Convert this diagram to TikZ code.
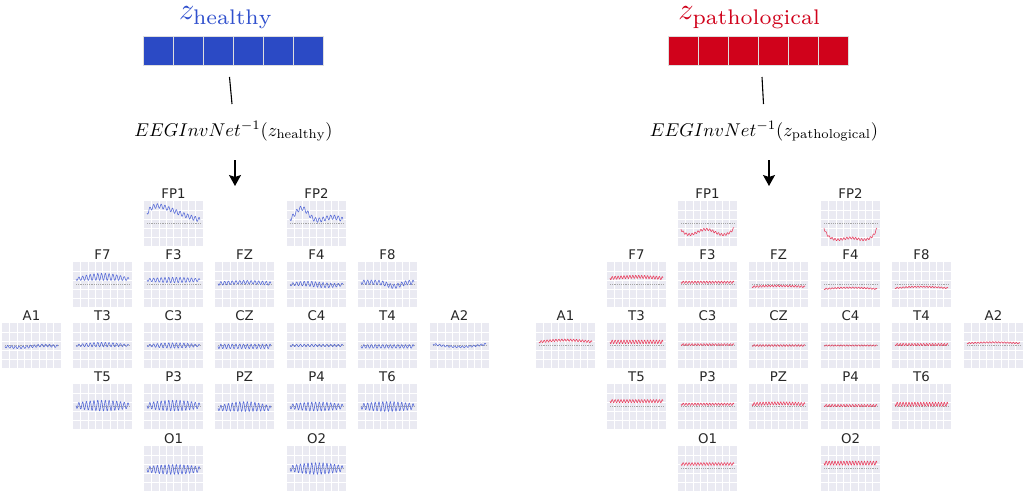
\documentclass[tikz,border=0pt]{standalone}
\usepackage{fontspec}
\usetikzlibrary{arrows.meta}
\newfontfamily\chfont{DejaVu Sans}
\definecolor{hblue}{RGB}{43,74,197}
\definecolor{hblueT}{RGB}{48,80,205}
\definecolor{pred}{RGB}{208,2,27}
\definecolor{hsig}{RGB}{85,105,215}
\definecolor{psig}{RGB}{232,60,92}
\definecolor{plotbg}{RGB}{234,234,242}
\definecolor{sqborder}{RGB}{222,222,222}
\tikzset{
 plotbox/.style={fill=plotbg, draw=none, minimum width=59pt, minimum height=45pt, inner sep=0pt, anchor=north west},
 chlabel/.style={anchor=base, inner sep=0pt, font=\fontsize{13.3}{15}\chfont, text=black!85},
 gridline/.style={white, line width=0.5pt},
 zeroline/.style={black!35, line width=0.4pt, dash pattern=on 1.2pt off 1pt},
 sigline/.style={line width=0.55pt, line join=round},
 hsq/.style={fill=hblue, draw=sqborder, line width=1pt, minimum width=30pt, minimum height=29pt, inner sep=0pt},
 psq/.style={fill=pred, draw=sqborder, line width=1pt, minimum width=30pt, minimum height=29pt, inner sep=0pt},
 titlenode/.style={anchor=base, inner sep=0pt, scale=3.02},
 formnode/.style={anchor=base, inner sep=0pt, scale=1.85},
 linkline/.style={black, line width=1.1pt},
 downarrow/.style={black, line width=1.2pt, -{Stealth[length=11pt, width=12pt, inset=2pt]}}
}
% #1 name, #2 x0, #3 y0, #4 label, #5 colour, #6 freq, #7 trend, #8 amplitude
\newcommand\eegch[8]{%
 \node[plotbox] (#1) at (#2,#3) {};
 \node[chlabel] (#1-lab) at ({#2+29.5},{#3-2.7}) {#4};
 \foreach \gi in {1,...,7}{\draw[gridline] ({#2+\gi*7.375},#3) -- ++(0,45);}
 \foreach \gj in {1,...,4}{\draw[gridline] (#2,{#3+\gj*9}) -- ++(59,0);}
 \draw[zeroline] ({#2+3},{#3+22}) -- ++(53,0);
 \draw[#5,sigline] plot[domain=0:1,samples=230,variable=\x] ({#2+3+53*\x},{#3+45*((#7)+(#8)*sin(\x*#6*360))});
}
\begin{document}
\begin{tikzpicture}[x=1pt,y=-1pt]
\useasboundingbox (0,0) rectangle (1024,492);

% ---------------- healthy ----------------
\node[titlenode, text=hblueT] (htitle) at (226,19.5) {$z_{\mathrm{healthy}}$};
\foreach \k/\cx in {1/158,2/188,3/218,4/248,5/278,6/308}{\node[hsq] (hsq\k) at (\cx,51.5) {};}
\coordinate (hla) at (229.5,77);
\coordinate (hlb) at (232,104);
\draw[linkline] (hla) -- (hlb);
\node[formnode] (hform) at (233.5,136) {$EEGInvNet^{-1}(z_{\mathrm{healthy}})$};
\coordinate (haa) at (235,160);
\coordinate (hab) at (235,186);
\draw[downarrow] (haa) -- (hab);

\eegch{hFP1}{144}{201}{FP1}{hsig}{14}{0.27-2.2*\x*exp(-\x/0.25)+0.19*\x}{0.05}
\eegch{hFP2}{287}{201}{FP2}{hsig}{14}{0.46-0.3*exp(-(\x-0.22)*(\x-0.22)/0.03)-0.1*exp(-(\x-0.8)*(\x-0.8)/0.05)}{0.05}

\eegch{hF7}{73}{262}{F7}{hsig}{14}{0.38-0.05*sin(\x*180)}{0.03+0.05*sin(\x*180)}
\eegch{hF3}{144}{262}{F3}{hsig}{14}{0.4}{0.03+0.03*sin(\x*180)}
\eegch{hFZ}{215}{262}{FZ}{hsig}{14}{0.48-0.03*sin(\x*180)}{0.04}
\eegch{hF4}{287}{262}{F4}{hsig}{14}{0.5-0.02*sin(\x*360)}{0.03+0.03*sin(\x*180)}
\eegch{hF8}{358}{262}{F8}{hsig}{14}{0.45+0.09*exp(-(\x-0.62)*(\x-0.62)/0.03)}{0.05}

\eegch{hA1}{2}{323}{A1}{hsig}{14}{0.52+0.02*sin(\x*360)}{0.03}
\eegch{hT3}{73}{323}{T3}{hsig}{14}{0.5-0.02*sin(\x*180)}{0.02+0.03*sin(\x*180)}
\eegch{hC3}{144}{323}{C3}{hsig}{14}{0.5}{0.02+0.04*sin(\x*180)}
\eegch{hCZ}{215}{323}{CZ}{hsig}{14}{0.52}{0.05}
\eegch{hC4}{287}{323}{C4}{hsig}{14}{0.5}{0.025}
\eegch{hT4}{358}{323}{T4}{hsig}{14}{0.52}{0.04}
\eegch{hA2}{430}{323}{A2}{hsig}{14}{0.47+0.06*sin(\x*180)}{0.02}

\eegch{hT5}{73}{384}{T5}{hsig}{14}{0.48}{0.06+0.06*sin(\x*180)}
\eegch{hP3}{144}{384}{P3}{hsig}{14}{0.48}{0.06+0.06*sin(\x*180)}
\eegch{hPZ}{215}{384}{PZ}{hsig}{14}{0.54-0.04*sin(\x*180)}{0.05+0.06*sin(\x*180)}
\eegch{hP4}{287}{384}{P4}{hsig}{14}{0.5}{0.05+0.05*sin(\x*180)}
\eegch{hT6}{358}{384}{T6}{hsig}{14}{0.5}{0.06+0.05*sin(\x*180)}

\eegch{hO1}{144}{446}{O1}{hsig}{14}{0.52}{0.06+0.05*sin(\x*180)}
\eegch{hO2}{287}{446}{O2}{hsig}{14}{0.5}{0.06+0.07*sin(\x*180)}

% ---------------- pathological ----------------
\node[titlenode, text=pred] (ptitle) at (750,19.5) {$z_{\mathrm{pathological}}$};
\foreach \k/\cx in {1/683,2/713,3/743,4/773,5/803,6/833}{\node[psq] (psq\k) at (\cx,51.5) {};}
\coordinate (pla) at (762,77);
\coordinate (plb) at (763.5,104);
\draw[linkline] (pla) -- (plb);
\node[formnode] (pform) at (764,136) {$EEGInvNet^{-1}(z_{\mathrm{pathological}})$};
\coordinate (paa) at (769,160);
\coordinate (pab) at (769,186);
\draw[downarrow] (paa) -- (pab);

\eegch{pFP1}{678}{201}{FP1}{psig}{18}{0.69+0.06*cos((\x-0.15)*554)-0.07*exp(-\x/0.05)-0.07*exp(-(1-\x)/0.05)}{0.025}
\eegch{pFP2}{821}{201}{FP2}{psig}{18}{0.84-0.22*((2*\x-1)*(2*\x-1))^4-0.02*cos(\x*720)}{0.025}

\eegch{pF7}{607}{262}{F7}{psig}{18}{0.36-0.03*sin(\x*180)}{0.035}
\eegch{pF3}{678}{262}{F3}{psig}{18}{0.45}{0.025}
\eegch{pFZ}{749}{262}{FZ}{psig}{18}{0.55-0.02*sin(\x*180)}{0.02}
\eegch{pF4}{821}{262}{F4}{psig}{18}{0.6-0.03*sin(\x*180)}{0.015}
\eegch{pF8}{892}{262}{F8}{psig}{18}{0.58-0.03*sin(\x*180)}{0.015}

\eegch{pA1}{536}{323}{A1}{psig}{18}{0.42-0.04*sin(\x*180)}{0.025}
\eegch{pT3}{607}{323}{T3}{psig}{18}{0.42}{0.04}
\eegch{pC3}{678}{323}{C3}{psig}{18}{0.48}{0.02}
\eegch{pCZ}{749}{323}{CZ}{psig}{18}{0.5}{0.02}
\eegch{pC4}{821}{323}{C4}{psig}{18}{0.5}{0.015}
\eegch{pT4}{892}{323}{T4}{psig}{18}{0.48}{0.025}
\eegch{pA2}{964}{323}{A2}{psig}{18}{0.45-0.02*sin(\x*180)}{0.015}

\eegch{pT5}{607}{384}{T5}{psig}{18}{0.38}{0.035}
\eegch{pP3}{678}{384}{P3}{psig}{18}{0.45}{0.025}
\eegch{pPZ}{749}{384}{PZ}{psig}{18}{0.45-0.02*sin(\x*180)}{0.035}
\eegch{pP4}{821}{384}{P4}{psig}{18}{0.48}{0.025}
\eegch{pT6}{892}{384}{T6}{psig}{18}{0.45}{0.045}

\eegch{pO1}{678}{446}{O1}{psig}{18}{0.4}{0.03}
\eegch{pO2}{821}{446}{O2}{psig}{18}{0.38}{0.045}
\end{tikzpicture}
\end{document}
